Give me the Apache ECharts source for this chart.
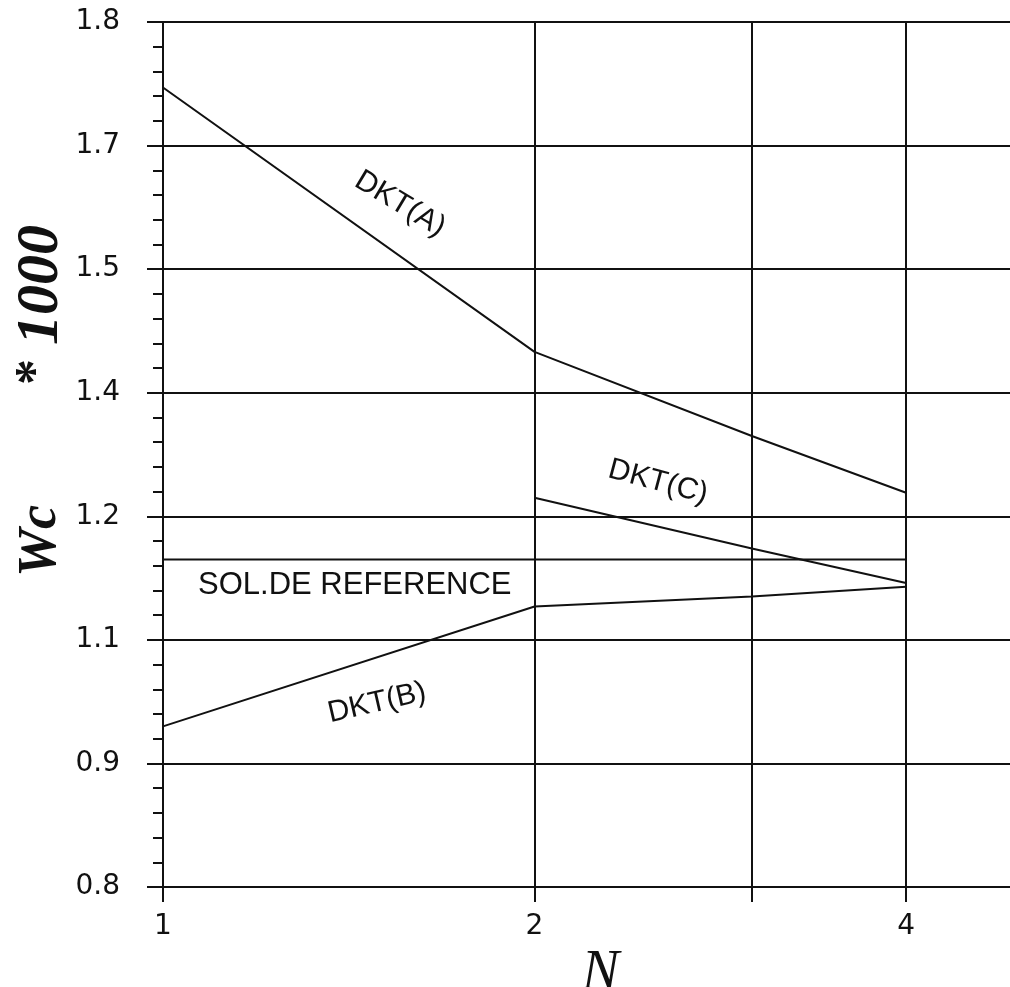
<!DOCTYPE html>
<html>
<head>
<meta charset="utf-8">
<script src="https://cdn.jsdelivr.net/npm/echarts@6/dist/echarts.min.js"></script>
<style>
html, body { margin: 0; padding: 0; background: #fff; }
#chart { width: 1010px; height: 987px; }
</style>
</head>
<body>
<div id="chart"></div>
<script>
// N (log2 axis)
var nAll = [1, 2, 3, 4];
var nC = [2, 3, 4];
var xTickValues = [1, 2, 3, 4];
var xLabelValues = [1, 2, 4];

// y is measured in grid steps from the bottom line; the printed labels are these
var yTickLabels = ['0.8', '0.9', '1.1', '1.2', '1.4', '1.5', '1.7', '1.8'];

var dktA = [6.47, 4.33, 3.65, 3.19];
var dktB = [1.30, 2.27, 2.35, 2.43];
var dktC = [3.15, 2.74, 2.46];
var refN = [1, 4];
var refLevel = 2.65;

function pairs(xs, ys) {
  return xs.map(function (x, i) { return [x, ys[i]]; });
}

var ink = '#111';
var sans = '"Liberation Sans", Arial, sans-serif';
var tickFont = '"DejaVu Sans", sans-serif';
var serif = '"Liberation Serif", "DejaVu Serif", serif';

function curve(name, data) {
  return {
    name: name,
    type: 'line',
    data: data,
    showSymbol: false,
    silent: true,
    lineStyle: { color: ink, width: 2 }
  };
}

var option = {
  animation: false,
  backgroundColor: '#fff',
  grid: { left: 163, right: 0, top: 22, bottom: 100, outerBoundsMode: 'none', containLabel: false },
  xAxis: {
    type: 'log',
    logBase: 2,
    min: 1,
    max: 4.856,
    axisLine: { lineStyle: { color: ink, width: 2 } },
    axisTick: { customValues: xTickValues, length: 15, lineStyle: { color: ink, width: 2 } },
    axisLabel: {
      customValues: xLabelValues,
      margin: 26,
      color: ink,
      fontFamily: tickFont,
      fontSize: 28,
      formatter: function (v) { return String(v); }
    },
    splitLine: { show: true, lineStyle: { color: ink, width: 2 } },
    name: 'N',
    nameLocation: 'middle',
    nameGap: 52,
    nameTextStyle: {
      fontFamily: serif,
      fontStyle: 'italic',
      fontSize: 56,
      color: ink,
      padding: [0, 0, 0, 28]
    }
  },
  yAxis: {
    type: 'value',
    min: 0,
    max: 7,
    interval: 1,
    axisLine: { show: true, lineStyle: { color: ink, width: 2 } },
    axisTick: { show: true, length: 16, lineStyle: { color: ink, width: 2 } },
    minorTick: { show: true, splitNumber: 5, length: 10, lineStyle: { color: ink, width: 2 } },
    axisLabel: {
      margin: 43,
      color: ink,
      fontFamily: tickFont,
      fontSize: 28,
      formatter: function (v) { return yTickLabels[Math.round(v)]; }
    },
    splitLine: { show: true, lineStyle: { color: ink, width: 2 } }
  },
  graphic: [
    { type: 'text', x: 41, y: 541, rotation: Math.PI / 2,
      style: { text: 'Wc', font: 'italic bold 54px ' + serif, fill: ink, textAlign: 'center', textVerticalAlign: 'middle' } },
    { type: 'text', x: 38, y: 372, rotation: Math.PI / 2,
      style: { text: '*', font: 'bold 52px ' + serif, fill: ink, textAlign: 'center', textVerticalAlign: 'middle' } },
    { type: 'text', x: 41, y: 285, rotation: Math.PI / 2,
      style: { text: '1000', font: 'italic bold 60px ' + serif, fill: ink, textAlign: 'center', textVerticalAlign: 'middle' } },
    { type: 'text', x: 400, y: 204, rotation: -31 * Math.PI / 180,
      style: { text: 'DKT(A)', font: '30px ' + sans, fill: ink, textAlign: 'center', textVerticalAlign: 'middle' } },
    { type: 'text', x: 658, y: 482, rotation: -15 * Math.PI / 180,
      style: { text: 'DKT(C)', font: '30px ' + sans, fill: ink, textAlign: 'center', textVerticalAlign: 'middle' } },
    { type: 'text', x: 377, y: 703, rotation: 13 * Math.PI / 180,
      style: { text: 'DKT(B)', font: '30px ' + sans, fill: ink, textAlign: 'center', textVerticalAlign: 'middle' } },
    { type: 'text', x: 198, y: 585,
      style: { text: 'SOL.DE REFERENCE', font: '31px ' + sans, fill: ink, textAlign: 'left', textVerticalAlign: 'middle' } }
  ],
  series: [
    curve('DKT(A)', pairs(nAll, dktA)),
    curve('DKT(B)', pairs(nAll, dktB)),
    curve('DKT(C)', pairs(nC, dktC)),
    curve('SOL.DE REFERENCE', refN.map(function (n) { return [n, refLevel]; }))
  ]
};

var chart = echarts.init(document.getElementById('chart'));
chart.setOption(option);
</script>
</body>
</html>
